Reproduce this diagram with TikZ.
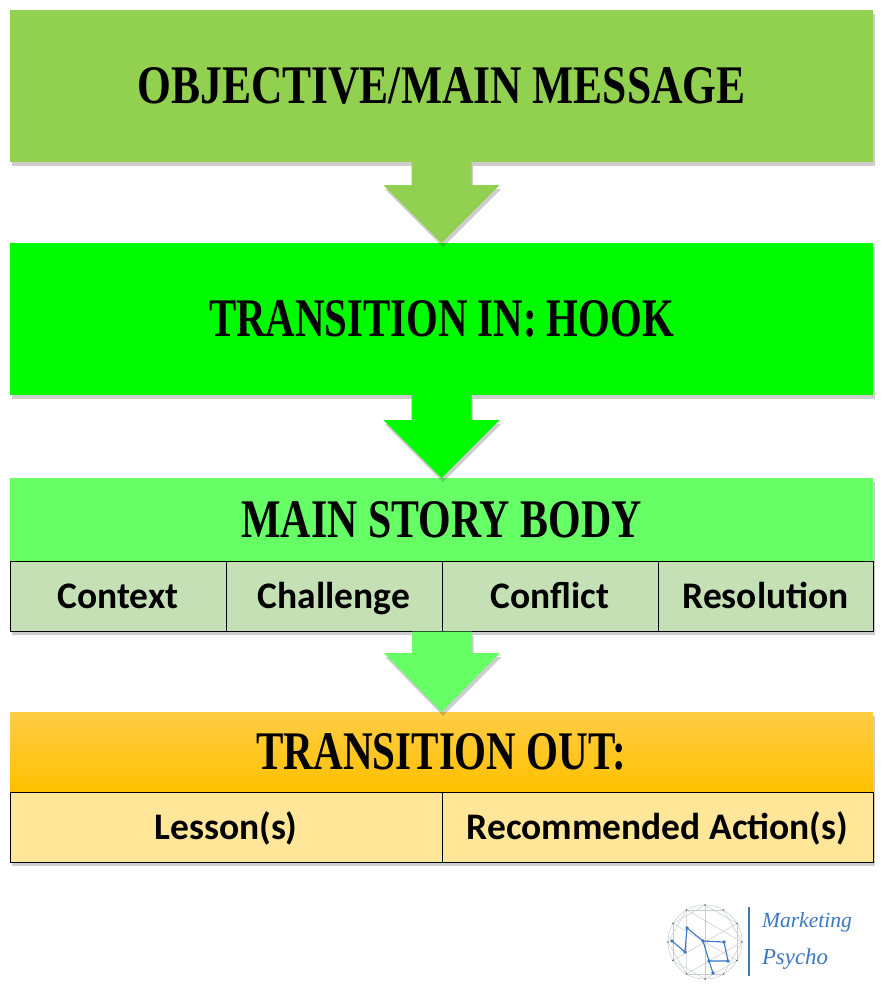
\documentclass[tikz,border=0pt]{standalone}
\usepackage{fontspec}
\usepackage{graphicx}
\newfontfamily\titlef{Liberation Serif}
\newfontfamily\cellf{Carlito}
\newfontfamily\logof{Liberation Serif}
\usetikzlibrary{calc,shadows}
\definecolor{cObj}{HTML}{92D050}
\definecolor{cHook}{HTML}{00FA00}
\definecolor{cBody}{HTML}{66FF66}
\definecolor{cCell}{HTML}{C5E0B4}
\definecolor{cOutTop}{HTML}{FFCD45}
\definecolor{cOutBot}{HTML}{FFC000}
\definecolor{cOutCell}{HTML}{FFE699}
\definecolor{cLogo}{HTML}{3A78C3}
\definecolor{cMesh}{HTML}{C8CCD2}
\tikzset{
  shad/.style={drop shadow={shadow xshift=1.5pt, shadow yshift=-4pt, opacity=0.28, fill=black!70}},
  blk/.style={inner sep=0pt, outer sep=0pt, shad},
  cellbox/.style={draw=black, line width=0.8pt, inner sep=0pt, outer sep=0pt, minimum height=70pt,
     text height=30pt, text depth=6pt,
     anchor=north west, font=\cellf\bfseries\fontsize{37.5}{40}\selectfont},
  hd/.style={inner sep=0pt, outer sep=0pt},
  blockarrow/.style={shad},
  meshline/.style={draw=cMesh, line width=0.5pt},
  logoline/.style={draw=cLogo, line width=1.1pt, line join=round},
  logodot/.style={fill=cLogo, circle, inner sep=1.4pt},
}
\begin{document}
\begin{tikzpicture}[x=1pt,y=-1pt]
\useasboundingbox (0,0) rectangle (883,986);
\fill[white] (0,0) rectangle (883,986);

% boxes
\node[blk, fill=cObj, minimum width=863pt, minimum height=152pt, anchor=north west] (obj) at (10,10) {};
\node[hd] (objt) at (obj.center) {\resizebox{608pt}{36pt}{\titlef\bfseries OBJECTIVE/MAIN MESSAGE}};

\node[blk, fill=cHook, minimum width=863pt, minimum height=152pt, anchor=north west] (hook) at (10,243) {};
\node[hd] (hookt) at (hook.center) {\resizebox{465pt}{36pt}{\titlef\bfseries TRANSITION IN: HOOK}};

\node[blk, fill=cBody, minimum width=863pt, minimum height=153pt, anchor=north west] (body) at (10,478) {};
\node[hd] (bodyt) at (10+431.5,519.5) {\resizebox{400pt}{36pt}{\titlef\bfseries MAIN STORY BODY}};
\node[cellbox, fill=cCell, minimum width=216pt] (ctx) at (10,561) {Context};
\node[cellbox, fill=cCell, minimum width=216pt] (chal) at (226,561) {Challenge};
\node[cellbox, fill=cCell, minimum width=216pt] (conf) at (442,561) {Conflict};
\node[cellbox, fill=cCell, minimum width=215pt] (res) at (658,561) {Resolution};

\node[blk, top color=cOutTop, bottom color=cOutBot, minimum width=863pt, minimum height=80pt, anchor=north west] (out) at (10,712) {};
\node[blk, minimum width=863pt, minimum height=70pt, anchor=north west] (outrow) at (10,792) {};
\node[hd] (outt) at (out.center) {\resizebox{370pt}{36pt}{\titlef\bfseries TRANSITION OUT:}};
\node[cellbox, fill=cOutCell, minimum width=432pt] (les) at (10,792) {Lesson(s)};
\node[cellbox, fill=cOutCell, minimum width=431pt] (rec) at (442,792) {Recommended Action(s)};

% block arrows
\coordinate (a1) at (obj.south);
\fill[cObj, blockarrow] ($(a1)+(-30,0)$) -- ($(a1)+(30,0)$) -- ($(a1)+(30,23)$) -- ($(a1)+(58,23)$)
   -- (hook.north) -- ($(a1)+(-58,23)$) -- ($(a1)+(-30,23)$) -- cycle;
\coordinate (a2) at (hook.south);
\fill[cHook, blockarrow] ($(a2)+(-30,0)$) -- ($(a2)+(30,0)$) -- ($(a2)+(30,25)$) -- ($(a2)+(58,25)$)
   -- (body.north) -- ($(a2)+(-58,25)$) -- ($(a2)+(-30,25)$) -- cycle;
\coordinate (a3) at (chal.south east);
\fill[cBody, blockarrow] ($(a3)+(-30,0.5)$) -- ($(a3)+(30,0.5)$) -- ($(a3)+(30,22)$) -- ($(a3)+(58,22)$)
   -- (out.north) -- ($(a3)+(-58,22)$) -- ($(a3)+(-30,22)$) -- cycle;

% logo
\coordinate (lc) at (705,942);
\draw[meshline] (lc) circle (37);
\foreach \a/\b in {0/60,60/120,120/180,180/240,240/300,300/360,30/90,90/150,150/210,210/270,270/330,330/30}{
  \draw[meshline] ($(lc)+(\a:37)$) -- ($(lc)+(\b:37)$);
}
\draw[meshline] ($(lc)+(30:37)$) -- ($(lc)+(210:37)$);
\draw[meshline] ($(lc)+(90:37)$) -- ($(lc)+(270:37)$);
\draw[meshline] ($(lc)+(150:37)$) -- ($(lc)+(330:37)$);
\draw[meshline] ($(lc)+(0:37)$) -- ($(lc)+(120:37)$) -- ($(lc)+(240:37)$) -- cycle;
\foreach \a in {0,30,...,330}{
  \fill[black!60] ($(lc)+(\a:37)$) circle (0.9);
}
\coordinate (p1) at (672,941);
\coordinate (p2) at (685,952);
\coordinate (p3) at (687,928);
\coordinate (p4) at (703,941);
\coordinate (p5) at (724,942);
\coordinate (p6) at (728,961);
\coordinate (p7) at (709,961);
\coordinate (p8) at (713,973);
\draw[logoline] (p1) -- (p2) -- (p3) -- (p4) -- (p5) -- (p6) -- (p7) -- (p4);
\draw[logoline] (p7) -- (p8);
\foreach \p in {p1,p2,p3,p4,p5,p6,p7,p8}{ \node[logodot] at (\p) {}; }
\coordinate (vl1) at (749,907);
\coordinate (vl2) at (749,976);
\draw[draw=cLogo, line width=2pt] (vl1) -- (vl2);
\node[hd, anchor=base west, text=cLogo] (mk) at (762,927) {\resizebox{90pt}{!}{\logof\itshape Marketing}};
\node[hd, anchor=base west, text=cLogo] (ps) at (762,964) {\resizebox{66pt}{!}{\logof\itshape Psycho}};
\end{tikzpicture}
\end{document}
